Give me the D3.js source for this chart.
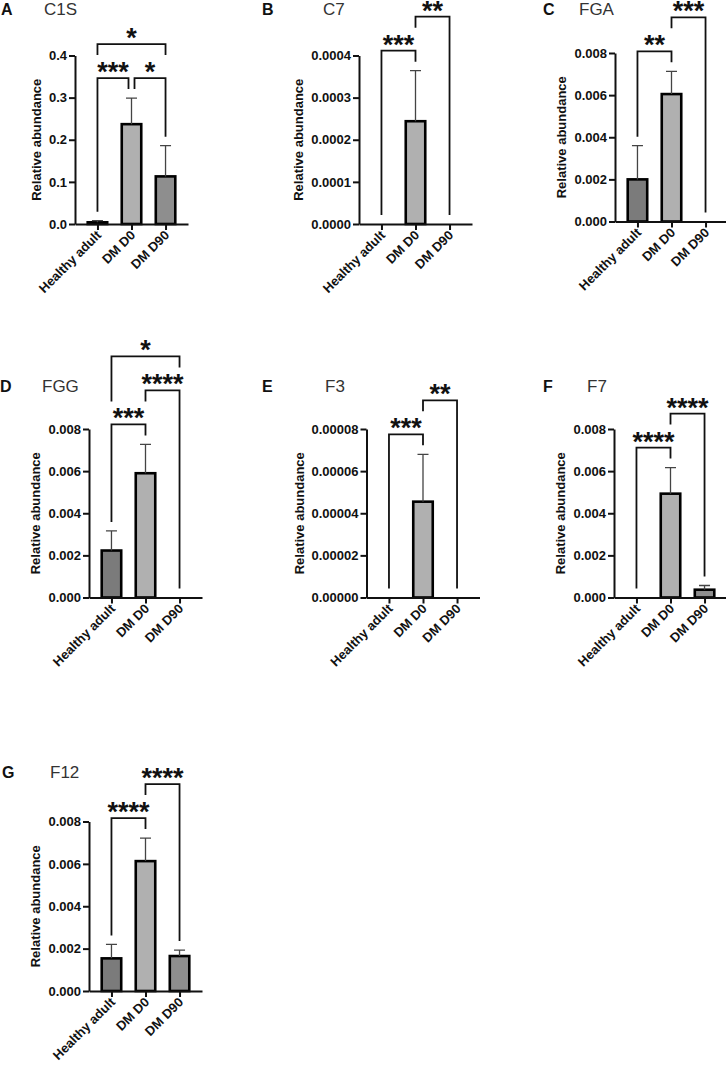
<!DOCTYPE html>
<html>
<head>
<meta charset="utf-8">
<script src="https://cdn.jsdelivr.net/npm/d3@7"></script>
<style>
  body { margin: 0; background: #fff; }
  svg { display: block; font-family: "Liberation Sans", Arial, sans-serif; }
</style>
</head>
<body>
<div id="chart"></div>
<script>
// Groups shared by every panel
const groups = ["Healthy adult", "DM D0", "DM D90"];
const barColors = ["#7b7b7b", "#b0b0b0", "#8e8e8e"];

// Means and upper error (SD) per protein
const c1sMean = [0.004, 0.237, 0.113];
const c1sErr = [0.004, 0.062, 0.073];
const c7Mean = [0, 0.000244, 0];
const c7Err = [0, 0.00012, 0];
const fgaMean = [0.0020, 0.00605, 0];
const fgaErr = [0.0016, 0.00108, 0];
const fggMean = [0.00223, 0.0059, 0];
const fggErr = [0.00093, 0.00137, 0];
const f3Mean = [0, 0.0000455, 0];
const f3Err = [0, 0.0000225, 0];
const f7Mean = [0, 0.00493, 0.00037];
const f7Err = [0, 0.00124, 0.0002];
const f12Mean = [0.00154, 0.00613, 0.00165];
const f12Err = [0.00066, 0.00109, 0.00028];

// Y tick values
const c1sTicks = [0, 0.1, 0.2, 0.3, 0.4];
const c7Ticks = [0, 0.0001, 0.0002, 0.0003, 0.0004];
const milliTicks = [0, 0.002, 0.004, 0.006, 0.008];
const f3Ticks = [0, 0.00002, 0.00004, 0.00006, 0.00008];

// Significance comparisons [from, to, stars], grouped by bracket row (bottom row first)
const c1sStars = [[[0, 1, "***"], [1, 2, "*"]], [[0, 2, "*"]]];
const c7Stars = [[[0, 1, "***"]], [[1, 2, "**"]]];
const fgaStars = [[[0, 1, "**"]], [[1, 2, "***"]]];
const fggStars = [[[0, 1, "***"]], [[1, 2, "****"]], [[0, 2, "*"]]];
const f3Stars = [[[0, 1, "***"]], [[1, 2, "**"]]];
const f7Stars = [[[0, 1, "****"]], [[1, 2, "****"]]];
const f12Stars = [[[0, 1, "****"]], [[1, 2, "****"]]];

// Panel table: data plus where each panel sits on the page
const panels = [
  { letter: "A", name: "C1S", mean: c1sMean, err: c1sErr, ticks: c1sTicks, fmt: ".1f", stars: c1sStars,
    axisX: 75, y0: 224, y1: 55.5, letterX: 1, nameX: 44, titleY: 15 },
  { letter: "B", name: "C7", mean: c7Mean, err: c7Err, ticks: c7Ticks, fmt: ".4f", stars: c7Stars,
    axisX: 359, y0: 224, y1: 55.5, letterX: 262, nameX: 323, titleY: 15 },
  { letter: "C", name: "FGA", mean: fgaMean, err: fgaErr, ticks: milliTicks, fmt: ".3f", stars: fgaStars,
    axisX: 615, y0: 221.5, y1: 53, letterX: 543, nameX: 579, titleY: 15 },
  { letter: "D", name: "FGG", mean: fggMean, err: fggErr, ticks: milliTicks, fmt: ".3f", stars: fggStars,
    axisX: 89, y0: 597.5, y1: 429, letterX: 0, nameX: 42, titleY: 392 },
  { letter: "E", name: "F3", mean: f3Mean, err: f3Err, ticks: f3Ticks, fmt: ".5f", stars: f3Stars,
    axisX: 366.5, y0: 597.5, y1: 429, letterX: 262, nameX: 325, titleY: 392 },
  { letter: "F", name: "F7", mean: f7Mean, err: f7Err, ticks: milliTicks, fmt: ".3f", stars: f7Stars,
    axisX: 614, y0: 597.5, y1: 429, letterX: 543, nameX: 587, titleY: 392 },
  { letter: "G", name: "F12", mean: f12Mean, err: f12Err, ticks: milliTicks, fmt: ".3f", stars: f12Stars,
    axisX: 89, y0: 991, y1: 821.5, letterX: 2, nameX: 50, titleY: 778 }
];

const svg = d3.select("#chart").append("svg")
  .attr("width", 726)
  .attr("height", 1066);

panels.forEach(drawPanel);

function drawPanel(p) {
  const g = svg.append("g");

  const y = d3.scaleLinear()
    .domain([0, d3.max(p.ticks)])
    .range([p.y0, p.y1]);

  const x = d3.scalePoint()
    .domain(groups)
    .range([p.axisX, p.axisX + 113])
    .padding(0.66);

  const barW = 19.5;

  // Bars
  groups.forEach((grp, i) => {
    if (p.mean[i] <= 0) return;
    g.append("rect")
      .attr("x", x(grp) - barW / 2)
      .attr("y", y(p.mean[i]))
      .attr("width", barW)
      .attr("height", y(0) - y(p.mean[i]))
      .attr("fill", barColors[i])
      .attr("stroke", "#000")
      .attr("stroke-width", 2.6);
  });

  // Upper error bars
  groups.forEach((grp, i) => {
    if (p.err[i] <= 0) return;
    const cx = x(grp);
    g.append("path")
      .attr("d", `M${cx},${y(p.mean[i])}V${y(p.mean[i] + p.err[i])}M${cx - 5.5},${y(p.mean[i] + p.err[i])}h11`)
      .attr("fill", "none")
      .attr("stroke", "#444")
      .attr("stroke-width", 1.3);
  });

  // Axes
  const yAxis = d3.axisLeft(y)
    .tickValues(p.ticks)
    .tickFormat(d3.format(p.fmt))
    .tickSize(6)
    .tickSizeOuter(0)
    .tickPadding(2);

  const yG = g.append("g")
    .attr("transform", `translate(${p.axisX},0)`)
    .call(yAxis);

  const xAxis = d3.axisBottom(x)
    .tickSize(6)
    .tickSizeOuter(0)
    .tickPadding(2);

  const xG = g.append("g")
    .attr("transform", `translate(0,${p.y0})`)
    .call(xAxis);

  [yG, xG].forEach(a => {
    a.attr("font-family", null).attr("font-size", null);
    a.selectAll("path, line").attr("stroke", "#111").attr("stroke-width", 2);
    a.selectAll("text")
      .attr("fill", "#111")
      .style("font-size", "13px")
      .style("font-weight", "bold");
  });

  xG.selectAll("text")
    .attr("y", 0)
    .attr("dy", 0)
    .attr("text-anchor", "end")
    .attr("transform", "translate(4,12) rotate(-45)");

  // Y axis title, placed just left of the widest tick label
  const labelLeft = d3.min(yG.selectAll(".tick text").nodes(), n => n.getBBox().x) + p.axisX;
  g.append("text")
    .attr("transform", `translate(${labelLeft - 8},${(p.y0 + p.y1) / 2}) rotate(-90)`)
    .attr("text-anchor", "middle")
    .attr("fill", "#111")
    .style("font-size", "13px")
    .style("font-weight", "bold")
    .text("Relative abundance");

  // Panel titles
  g.append("text")
    .attr("x", p.letterX)
    .attr("y", p.titleY)
    .attr("fill", "#111")
    .style("font-size", "16px")
    .style("font-weight", "bold")
    .text(p.letter);

  g.append("text")
    .attr("x", p.nameX)
    .attr("y", p.titleY)
    .attr("fill", "#333")
    .style("font-size", "17px")
    .text(p.name);

  // Significance brackets, stacked row by row above the bars
  const tops = groups.map((grp, i) => y(p.mean[i] + p.err[i]));
  p.stars.forEach(row => {
    const cols = row.flatMap(([a, b]) => d3.range(a, b + 1));
    const lineY = d3.min(cols, c => tops[c]) - 20;

    row.forEach(([a, b, label]) => {
      const sharedA = row.some(r => r[1] === a);
      const sharedB = row.some(r => r[0] === b);
      const xa = x(groups[a]) + (sharedA ? 3 : 0);
      const xb = x(groups[b]) - (sharedB ? 3 : 0);

      g.append("path")
        .attr("d", `M${xa},${tops[a] - 9}V${lineY}H${xb}V${tops[b] - 9}`)
        .attr("fill", "none")
        .attr("stroke", "#111")
        .attr("stroke-width", 1.8);

      g.append("text")
        .attr("x", (xa + xb) / 2)
        .attr("y", lineY + 3)
        .attr("text-anchor", "middle")
        .attr("fill", "#111")
        .style("font-size", "27px")
        .style("font-weight", "bold")
        .text(label);
    });

    row.forEach(([a, b]) => {
      d3.range(a, b + 1).forEach(c => { tops[c] = lineY - 14; });
    });
  });
}
</script>
</body>
</html>
